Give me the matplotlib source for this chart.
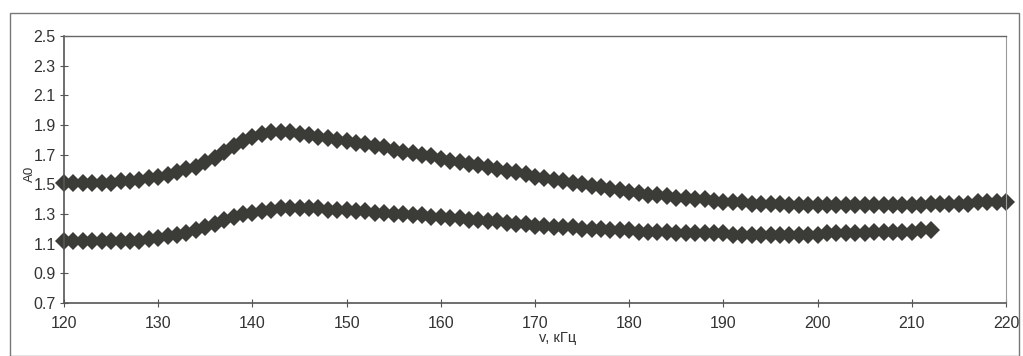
import matplotlib.pyplot as plt
from matplotlib.patches import Rectangle

plt.rcParams['font.family'] = ['Liberation Sans', 'DejaVu Sans']

# frequency, kHz (one point per kHz)
freq_upper = list(range(120, 221))
freq_lower = list(range(120, 213))

a0_upper = [
    1.51, 1.51, 1.51, 1.51, 1.51, 1.51, 1.52, 1.52, 1.53, 1.54,  # 120-129
    1.55, 1.56, 1.58, 1.60, 1.62, 1.65, 1.68, 1.72, 1.76, 1.79,  # 130-139
    1.82, 1.84, 1.85, 1.85, 1.85, 1.84, 1.83, 1.82, 1.81, 1.80,  # 140-149
    1.79, 1.78, 1.77, 1.76, 1.75, 1.73, 1.72, 1.71, 1.70, 1.69,  # 150-159
    1.67, 1.66, 1.65, 1.64, 1.63, 1.62, 1.60, 1.59, 1.58, 1.57,  # 160-169
    1.55, 1.54, 1.53, 1.52, 1.51, 1.50, 1.49, 1.48, 1.47, 1.46,  # 170-179
    1.45, 1.44, 1.43, 1.43, 1.42, 1.41, 1.41, 1.40, 1.40, 1.39,  # 180-189
    1.38, 1.38, 1.38, 1.37, 1.37, 1.37, 1.37, 1.36, 1.36, 1.36,  # 190-199
    1.36, 1.36, 1.36, 1.36, 1.36, 1.36, 1.36, 1.36, 1.36, 1.36,  # 200-209
    1.36, 1.36, 1.37, 1.37, 1.37, 1.37, 1.37, 1.38, 1.38, 1.38,  # 210-219
    1.38,                                                        # 220
]

a0_lower = [
    1.12, 1.12, 1.12, 1.12, 1.12, 1.12, 1.12, 1.12, 1.12, 1.13,  # 120-129
    1.14, 1.15, 1.16, 1.17, 1.19, 1.21, 1.23, 1.26, 1.28, 1.30,  # 130-139
    1.31, 1.32, 1.33, 1.34, 1.34, 1.34, 1.34, 1.34, 1.33, 1.33,  # 140-149
    1.33, 1.32, 1.32, 1.31, 1.31, 1.30, 1.30, 1.29, 1.29, 1.28,  # 150-159
    1.28, 1.27, 1.27, 1.26, 1.26, 1.25, 1.25, 1.24, 1.23, 1.23,  # 160-169
    1.22, 1.22, 1.21, 1.21, 1.21, 1.20, 1.20, 1.20, 1.19, 1.19,  # 170-179
    1.19, 1.18, 1.18, 1.18, 1.18, 1.17, 1.17, 1.17, 1.17, 1.17,  # 180-189
    1.17, 1.16, 1.16, 1.16, 1.16, 1.16, 1.16, 1.16, 1.16, 1.16,  # 190-199
    1.16, 1.17, 1.17, 1.17, 1.17, 1.17, 1.18, 1.18, 1.18, 1.18,  # 200-209
    1.18, 1.19, 1.19,                                            # 210-212
]

x_ticks = list(range(120, 221, 10))
y_ticks = [0.7, 0.9, 1.1, 1.3, 1.5, 1.7, 1.9, 2.1, 2.3, 2.5]
y_ticklabels = ['0.7', '0.9', '1.1', '1.3', '1.5', '1.7', '1.9', '2.1', '2.3', '2.5']

W, H = 1023, 356
fig = plt.figure(figsize=(W / 100, H / 100), dpi=100)
ax = fig.add_axes([64 / W, 1 - 303 / H, (1006 - 64) / W, (303 - 36) / H])

mcol = '#3b3b37'
ax.plot(freq_upper, a0_upper, linestyle='none', marker='D', markersize=9,
        color=mcol, markeredgewidth=0, clip_on=False)
ax.plot(freq_lower, a0_lower, linestyle='none', marker='D', markersize=9,
        color=mcol, markeredgewidth=0, clip_on=False)

ax.set_xlim(120, 220)
ax.set_ylim(0.7, 2.5)
ax.set_xticks(x_ticks)
ax.set_yticks(y_ticks)
ax.set_yticklabels(y_ticklabels)
ax.tick_params(direction='inout', length=6, width=0.8, colors='#555555',
               labelsize=11.5, labelcolor='#333333')
ax.tick_params(axis='x', pad=6)
ax.tick_params(axis='y', pad=3)

for side in ['left', 'bottom']:
    ax.spines[side].set_color('#555555')
    ax.spines[side].set_linewidth(1.2)
ax.spines['top'].set_color('#666666')
ax.spines['top'].set_linewidth(1.0)
ax.spines['right'].set_color('#999999')
ax.spines['right'].set_linewidth(0.8)

fig.text(558 / W, 1 - 338 / H, 'v, кГц', ha='center', va='center',
         fontsize=10.5, color='#333333')
fig.text(30 / W, 1 - 174 / H, 'A0', ha='center', va='center', rotation=90,
         fontsize=9.5, color='#333333')

# outer chart-area frame
fig.patches.append(Rectangle((10 / W, 0.0), (1019 - 10) / W, 1 - 13 / H,
                             transform=fig.transFigure, fill=False,
                             edgecolor='#777777', linewidth=1.0))

fig.savefig('out.png', dpi=100)
